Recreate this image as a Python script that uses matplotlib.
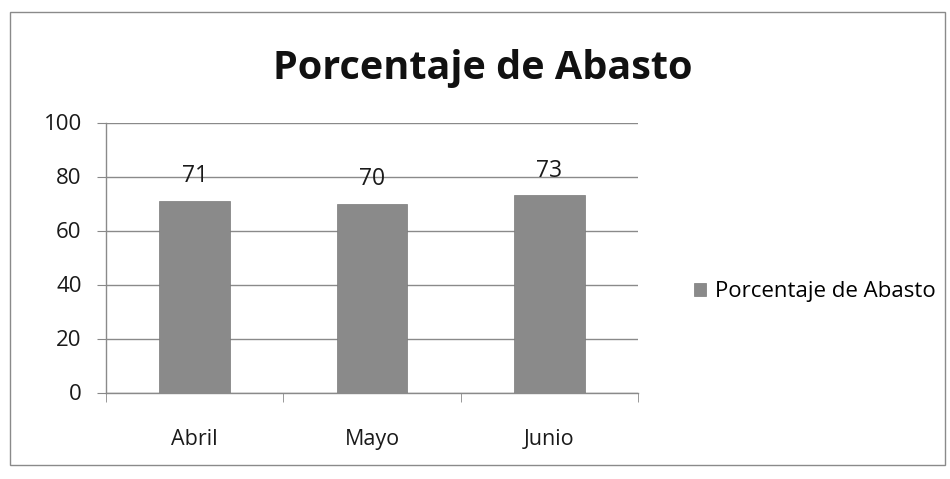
import matplotlib
matplotlib.use("Agg")
import matplotlib.pyplot as plt
from matplotlib.patches import Rectangle

categories = ["Abril", "Mayo", "Junio"]
values = [71, 70, 73]
yticks = [0, 20, 40, 60, 80, 100]
series_name = "Porcentaje de Abasto"
title = "Porcentaje de Abasto"

plt.rcParams['font.family'] = ['Open Sans', 'DejaVu Sans']

W, H = 950, 479
fig = plt.figure(figsize=(W/100, H/100), dpi=100)
fig.patch.set_facecolor("white")

# outer chart border
fig.add_artist(Rectangle((10/W, 1 - 465/H), 935/W, 453/H, transform=fig.transFigure,
                         fill=False, edgecolor="#8a8a8a", linewidth=1.0))

ax = fig.add_axes([106/W, 1 - 392.5/H, (638-106)/W, (392.5-122.5)/H])
x = list(range(len(categories)))
bars = ax.bar(x, values, width=0.4, color="#8a8a8a", edgecolor="#7a7a7a", linewidth=0.5,
              label=series_name, zorder=3)
ax.set_xlim(-0.5, len(categories) - 0.5)
ax.set_ylim(0, 100)
ax.set_yticks(yticks)
ax.set_xticks(x)
ax.set_xticklabels(categories, fontsize=15.5, color="#1a1a1a")
ax.tick_params(axis='y', labelsize=16, length=6.5, color="#888888", pad=11, labelcolor="#1a1a1a")
ax.tick_params(axis='x', length=0, pad=26)
ax.yaxis.grid(True, color="#8a8a8a", linewidth=1.0, zorder=0)
for s in ["top", "right"]:
    ax.spines[s].set_visible(False)
ax.spines["left"].set_color("#8a8a8a")
ax.spines["bottom"].set_color("#8a8a8a")
for spine in ["left", "bottom"]:
    ax.spines[spine].set_linewidth(1.0)
# minor tick marks between categories on x axis
ax.set_xticks([-0.5, 0.5, 1.5, 2.5], minor=True)
ax.tick_params(axis='x', which='minor', length=6.5, color="#888888")

for xi, v in zip(x, values):
    ax.text(xi, v + 4.6, str(v), ha="center", va="bottom", fontsize=16.5, color="#1a1a1a", zorder=4)

fig.text(483/W, 1 - 68/H, title, ha="center", va="center", fontsize=28.5, fontweight="bold", color="#111111")

fig.legend(handles=[bars], labels=[series_name], loc="center left",
           bbox_to_anchor=(674/W, 1 - 292/H), frameon=False, fontsize=16,
           handlelength=0.55, handleheight=0.55, handletextpad=0.4)

fig.savefig("out.png", dpi=100, facecolor="white")
